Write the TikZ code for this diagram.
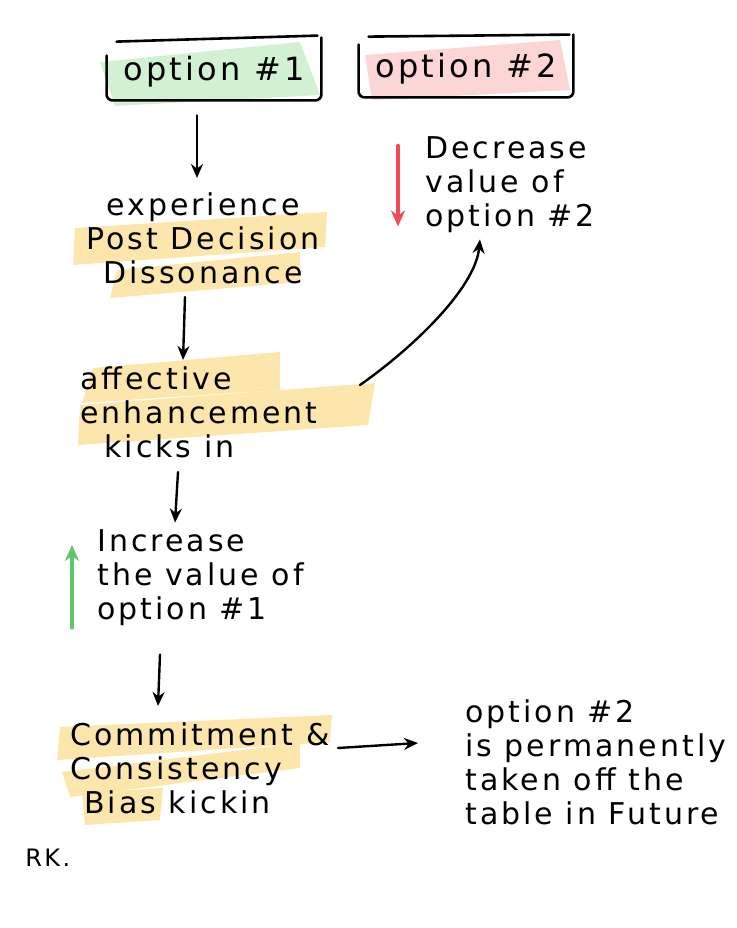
\documentclass[tikz,border=0pt]{standalone}
\usepackage{fontspec}
\setmainfont[LetterSpace=10]{DejaVu Sans}
\usepackage{xcolor}
\usetikzlibrary{positioning,arrows.meta}
\definecolor{hl-yellow}{RGB}{253,224,150}
\definecolor{hl-green}{RGB}{205,238,205}
\definecolor{hl-pink}{RGB}{252,208,208}
\definecolor{up-green}{RGB}{95,200,110}
\definecolor{down-red}{RGB}{240,75,85}

\begin{document}
\begin{tikzpicture}
[
x=0.5pt, y=-0.5pt,
hand/.style={inner sep=0pt, font=\fontsize{15}{17}\selectfont, align=left},
optbox/.style={inner sep=0pt, font=\fontsize{16}{17}\selectfont, minimum width=107pt, minimum height=28pt},
arr/.style={-{Stealth[length=7pt,width=6pt]}, line width=1.2pt, line cap=round},
arr-c/.style={-{Stealth[length=8pt,width=7pt]}, line width=1.6pt, line cap=round},
bracket/.style={line width=1.3pt, line cap=round, rounded corners=3pt},
band-y/.style={fill=hl-yellow, opacity=0.8},
band-g/.style={fill=hl-green, opacity=0.9},
band-p/.style={fill=hl-pink, opacity=0.9}
]
\useasboundingbox (0,0) rectangle (736,928);
% highlighter strokes
\fill[band-g] (100,62) -- (300,42) -- (320,95) -- (115,106) -- cycle;
\fill[band-p] (365,55) -- (560,40) -- (570,90) -- (372,100) -- cycle;
\fill[band-y] (75,228) -- (327,212) -- (325,247) -- (73,265) -- cycle;
\fill[band-y] (117,270) -- (300,252) -- (300,282) -- (110,298) -- cycle;
\fill[band-y] (93,368) -- (280,352) -- (280,390) -- (82,403) -- cycle;
\fill[band-y] (80,405) -- (375,383) -- (368,425) -- (78,445) -- cycle;
\fill[band-y] (60,727) -- (332,715) -- (330,742) -- (57,760) -- cycle;
\fill[band-y] (62,772) -- (300,743) -- (300,768) -- (70,797) -- cycle;
\fill[band-y] (82,793) -- (163,788) -- (160,820) -- (85,825) -- cycle;
% nodes
\node (opt1) [optbox] at (214,72)          {option \#1};
\node (opt2) [optbox] at (466,69)          {option \#2};
\node (exp)  [hand, align=center] at (203,238) {experience\\Post Decision\\Dissonance};
\node (aff)  [hand, anchor=west] at (80,412)   {affective\\enhancement\\\hspace*{12pt}kicks in};
\node (dec)  [hand, anchor=west] at (425,185)  {Decrease\\value of\\option \#2};
\node (inc)  [hand, anchor=west] at (97,578)   {Increase\\the value of\\option \#1};
\node (comm) [hand, anchor=west] at (70,768)   {Commitment \&\\Consistency\\\hspace*{7pt}Bias kickin};
\node (fut)  [hand, anchor=west] at (465,762)  {option \#2\\is permanently\\taken off the\\table in Future};
\node (rk)   [inner sep=0pt, font=\fontsize{12}{12}\selectfont, anchor=west] at (25,858) {RK.};
% boxes
\draw[bracket] ([yshift=-6pt]opt1.north west) -- (opt1.south west) -- (opt1.south east) -- ([yshift=3pt]opt1.north east);
\draw[bracket] ([xshift=5pt,yshift=1pt]opt1.north west) -- ([xshift=-2pt,yshift=4pt]opt1.north east);
\draw[bracket] ([yshift=-2pt]opt2.north west) -- (opt2.south west) -- (opt2.south east) -- ([yshift=3pt]opt2.north east);
\draw[bracket] ([xshift=5pt,yshift=2pt]opt2.north west) -- ([xshift=-2pt,yshift=3pt]opt2.north east);
% arrows
\draw[arr] ([xshift=-8.5pt,yshift=-7.5pt]opt1.south) -- ([xshift=-3pt,yshift=7pt]exp.north);
\draw[arr] ([xshift=-9pt,yshift=-6.5pt]exp.south) -- ([xshift=51.5pt,yshift=3pt]aff.north west);
\draw[arr] ([xshift=49pt,yshift=-7pt]aff.south west) -- ([xshift=39pt,yshift=3.5pt]inc.north west);
\draw[arr] ([xshift=31.5pt,yshift=-14pt]inc.south west) -- ([xshift=44pt,yshift=8pt]comm.north west);
\draw[arr] ([xshift=4pt,yshift=10pt]comm.east) -- ([xshift=-23.5pt,yshift=9.5pt]fut.west);
\draw[arr] ([xshift=140pt,yshift=-9.5pt]aff.north west) .. controls +(50,-35) and +(-5,50) .. ([xshift=27.5pt,yshift=-3pt]dec.south west);
\draw[arr-c, down-red] ([xshift=-13.5pt,yshift=-4.5pt]dec.north west) -- ([xshift=-13.5pt,yshift=3.5pt]dec.south west);
\draw[arr-c, up-green] ([xshift=-12.5pt,yshift=-25pt]inc.west) -- ([xshift=-12.5pt,yshift=16.5pt]inc.west);
\end{tikzpicture}
\end{document}
